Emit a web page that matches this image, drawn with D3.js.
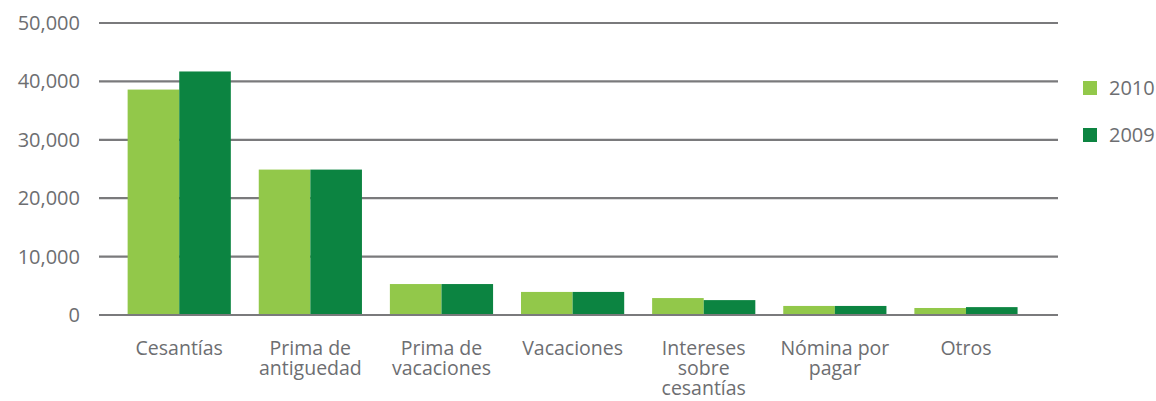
<!DOCTYPE html>
<html>
<head>
<meta charset="utf-8">
<script src="https://cdn.jsdelivr.net/npm/d3@7"></script>
<style>
  body { margin: 0; background: #fff; }
  text { font-family: "Open Sans", "Lato", sans-serif; fill: #6d6e71; }
</style>
</head>
<body>
<svg id="chart" width="1156" height="401"></svg>
<script>
// chart data
const categories = ["Cesantías", "Prima de antiguedad", "Prima de vacaciones", "Vacaciones",
  "Intereses sobre cesantías", "Nómina por pagar", "Otros"];
const labelLines = [["Cesantías"], ["Prima de", "antiguedad"], ["Prima de", "vacaciones"], ["Vacaciones"],
  ["Intereses", "sobre", "cesantías"], ["Nómina por", "pagar"], ["Otros"]];
const series = ["2010", "2009"];
const values2010 = [38600, 24900, 5300, 3950, 2900, 1550, 1200];
const values2009 = [41700, 24900, 5300, 3950, 2550, 1550, 1350];
const yTicks = [0, 10000, 20000, 30000, 40000, 50000];

const colors = { "2010": "#92c84a", "2009": "#0c8441" };

const svg = d3.select("#chart");

const gridLeft = 99, gridRight = 1058;
const y = d3.scaleLinear().domain([0, 50000]).range([315, 23]);

const x = d3.scaleBand()
  .domain(categories)
  .range([113.6, 1031.6])
  .paddingInner(0.213)
  .paddingOuter(0.107);

const x1 = d3.scaleBand().domain(series).range([0, x.bandwidth()]);

// gridlines
svg.append("g")
  .selectAll("line")
  .data(yTicks)
  .enter().append("line")
  .attr("x1", gridLeft)
  .attr("x2", gridRight)
  .attr("y1", d => y(d))
  .attr("y2", d => y(d))
  .style("stroke", "#7a7a7c")
  .style("stroke-width", 2.2);

// y tick labels
svg.append("g")
  .selectAll("text")
  .data(yTicks)
  .enter().append("text")
  .attr("x", 80)
  .attr("y", d => y(d))
  .attr("dy", "0.35em")
  .attr("text-anchor", "end")
  .style("font-size", "20px")
  .text(d => d3.format(",")(d));

// bars
const rows = categories.map((c, i) => ({ cat: c, vals: [
  { key: "2010", v: values2010[i] },
  { key: "2009", v: values2009[i] }
]}));

const groups = svg.append("g")
  .selectAll("g")
  .data(rows)
  .enter().append("g")
  .attr("transform", d => `translate(${x(d.cat)},0)`);

groups.selectAll("rect")
  .data(d => d.vals)
  .enter().append("rect")
  .attr("x", d => x1(d.key))
  .attr("y", d => y(d.v))
  .attr("width", x1.bandwidth())
  .attr("height", d => y(0) - y(d.v) - 1)
  .style("fill", d => colors[d.key]);

// category labels, one text per line
const lab = svg.append("g")
  .selectAll("g")
  .data(categories)
  .enter().append("g")
  .attr("transform", d => `translate(${x(d) + x.bandwidth() / 2},355)`);

lab.selectAll("text")
  .data((d, i) => labelLines[i])
  .enter().append("text")
  .attr("text-anchor", "middle")
  .attr("y", (d, i) => i * 20)
  .style("font-size", "19.5px")
  .text(d => d);

// legend
const legend = svg.append("g")
  .selectAll("g")
  .data(series)
  .enter().append("g")
  .attr("transform", (d, i) => `translate(1083,${81 + i * 47})`);

legend.append("rect")
  .attr("width", 14)
  .attr("height", 14)
  .style("fill", d => colors[d]);

legend.append("text")
  .attr("x", 26)
  .attr("y", 7)
  .attr("dy", "0.35em")
  .style("font-size", "20px")
  .text(d => d);
</script>
</body>
</html>
